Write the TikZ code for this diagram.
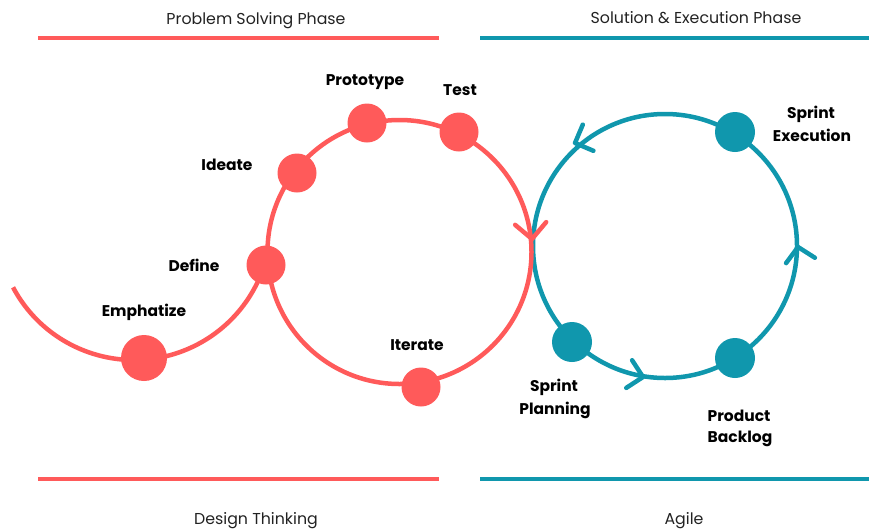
\documentclass[tikz,border=0pt]{standalone}
\usepackage{fontspec}
\setmainfont{Poppins}
\definecolor{dtred}{HTML}{FF5A5A}
\definecolor{agblue}{HTML}{1097AD}
\definecolor{phasetext}{HTML}{222222}
\begin{document}
\begin{tikzpicture}[x=1pt,y=1pt,
  reddot/.style={circle,fill=dtred,inner sep=0pt,minimum size=39pt},
  bluedot/.style={circle,fill=agblue,inner sep=0pt,minimum size=40pt},
  lbl/.style={font=\fontsize{15.5}{22}\selectfont\bfseries,text=black,inner sep=0pt,anchor=base},
  phase/.style={font=\fontsize{15.8}{18}\selectfont,text=phasetext,inner sep=0pt,anchor=base},
  redstroke/.style={draw=dtred,line width=4.5pt},
  bluestroke/.style={draw=agblue,line width=4.5pt},
  redbar/.style={draw=dtred,line width=4pt},
  bluebar/.style={draw=agblue,line width=4pt},
  chev/.style={line width=4.5pt,line cap=round,line join=round}]
\useasboundingbox (0,0) rectangle (869,-528);

% phase headers and bars
\node[phase] (hps) at (256,-24) {Problem Solving Phase};
\node[phase] (hse) at (696,-23.5) {Solution \& Execution Phase};
\node[phase] (fdt) at (256,-524) {Design Thinking};
\node[phase] (fag) at (684,-524) {Agile};
\coordinate (rtl) at (38,-37.5); \coordinate (rtr) at (439,-37.5);
\coordinate (btl) at (480,-37.5); \coordinate (btr) at (869,-37.5);
\coordinate (rbl) at (38,-478.5); \coordinate (rbr) at (439,-478.5);
\coordinate (bbl) at (480,-478.5); \coordinate (bbr) at (869,-478.5);
\draw[redbar] (rtl) -- (rtr);
\draw[bluebar] (btl) -- (btr);
\draw[redbar] (rbl) -- (rbr);
\draw[bluebar] (bbl) -- (bbr);

% Agile cycle
\coordinate (bc) at (665,-246);
\draw[bluestroke] (bc) circle[radius=132pt];
\coordinate (ba1) at (575,-143);
\coordinate (ba2) at (798,-247);
\coordinate (ba3) at (643,-377);
\draw[bluestroke,chev] (ba1) ++(67:20) -- (ba1) -- ++(-23:20);
\draw[bluestroke,chev] (ba2) ++(-32.5:20) -- (ba2) -- ++(-126.5:20);
\draw[bluestroke,chev] (ba3) ++(213:20) -- (ba3) -- ++(123:20);
\node[bluedot] (exe) at (735,-132) {};
\node[bluedot] (pln) at (572,-342) {};
\node[bluedot] (bkl) at (735,-358) {};

% Design thinking cycle
\coordinate (ec) at (134,-223);
\draw[redstroke] (ec) ++(208:137) arc[start angle=208,end angle=342,radius=137pt];
\coordinate (rc) at (399.5,-252);
\draw[redstroke] (rc) circle[radius=132pt];
\coordinate (ra) at (532,-239);
\draw[redstroke,chev] (ra) ++(140:22) -- (ra) -- ++(50:22);
\node[reddot,minimum size=46pt] (emp) at (144,-358) {};
\node[reddot] (def) at (266,-265) {};
\node[reddot] (ide) at (297,-173) {};
\node[reddot] (pro) at (367,-123) {};
\node[reddot] (tst) at (459,-132) {};
\node[reddot] (itr) at (421,-387) {};

% labels
\node[lbl] (lpro) at (365,-85) {Prototype};
\node[lbl] (ltst) at (460,-95) {Test};
\node[lbl] (lide) at (227,-170) {Ideate};
\node[lbl] (ldef) at (194,-271.5) {Define};
\node[lbl] (lemp) at (144,-316.5) {Emphatize};
\node[lbl] (litr) at (417,-350) {Iterate};
\node[lbl] (lexe1) at (811,-118) {Sprint};
\node[lbl] (lexe2) at (812,-141) {Execution};
\node[lbl] (lpln1) at (554,-391.5) {Sprint};
\node[lbl] (lpln2) at (555,-414) {Planning};
\node[lbl] (lbkl1) at (739,-421.5) {Product};
\node[lbl] (lbkl2) at (740,-442) {Backlog};
\end{tikzpicture}
\end{document}
